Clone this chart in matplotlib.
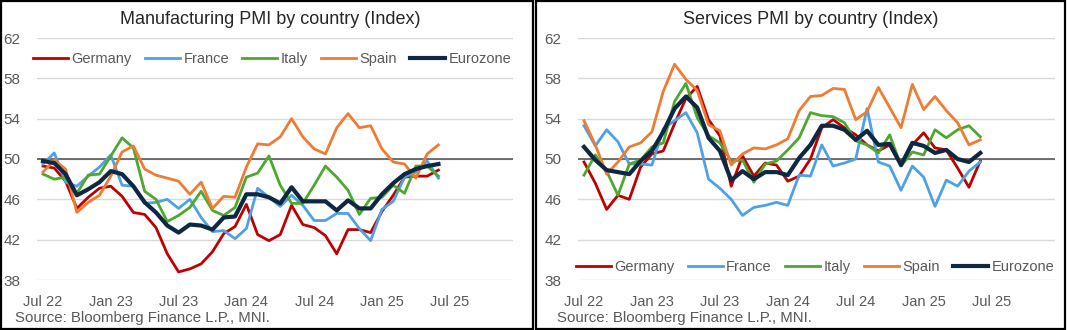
"""
Manufacturing and services PMI by country, two panels side by side.
"""

import matplotlib.pyplot as plt
from matplotlib.patches import Rectangle

plt.rcParams["font.family"] = ["Liberation Sans", "DejaVu Sans"]

# Monthly readings, Jul 2022 .. Jun 2025
months = list(range(36))
tick_pos = [0, 6, 12, 18, 24, 30, 36]
tick_labels = ["Jul 22", "Jan 23", "Jul 23", "Jan 24", "Jul 24", "Jan 25", "Jul 25"]
y_ticks = [38, 42, 46, 50, 54, 58, 62]

countries = ["Germany", "France", "Italy", "Spain", "Eurozone"]

mfg_germany = [49.3, 49.1, 47.8, 45.1, 46.2, 47.1, 47.3, 46.3, 44.7, 44.5, 43.2, 40.6,
               38.8, 39.1, 39.6, 40.8, 42.6, 43.3, 45.5, 42.5, 41.9, 42.5, 45.4, 43.5,
               43.2, 42.4, 40.6, 43.0, 43.0, 42.7, 44.8, 46.4, 48.2, 48.3, 48.3, 48.9]
mfg_france = [49.5, 50.6, 47.7, 47.3, 48.3, 49.2, 50.4, 47.4, 47.3, 45.6, 45.7, 46.0,
              45.1, 46.0, 44.2, 42.8, 42.9, 42.1, 43.1, 47.1, 46.2, 45.3, 46.4, 45.4,
              43.9, 43.9, 44.6, 44.6, 43.1, 41.9, 45.0, 45.8, 48.2, 48.7, 49.8, 48.1]
mfg_italy = [48.5, 48.0, 48.2, 46.6, 48.4, 48.5, 50.3, 52.1, 51.1, 46.8, 46.0, 43.8,
             44.4, 45.2, 46.8, 44.9, 44.4, 45.2, 48.2, 48.6, 50.3, 47.4, 45.6, 45.6,
             47.4, 49.3, 48.2, 46.9, 44.5, 46.1, 46.2, 47.4, 46.6, 49.3, 49.3, 48.3]
mfg_spain = [48.7, 49.9, 49.0, 44.7, 45.7, 46.4, 48.3, 50.7, 51.3, 49.0, 48.4, 48.1,
             47.8, 46.5, 47.7, 45.1, 46.3, 46.2, 49.2, 51.5, 51.4, 52.2, 54.0, 52.2,
             51.0, 50.5, 53.1, 54.5, 53.1, 53.3, 51.0, 49.7, 49.5, 48.1, 50.5, 51.4]
mfg_eurozone = [49.8, 49.6, 48.5, 46.4, 47.0, 47.7, 48.8, 48.5, 47.3, 45.7, 44.7, 43.4,
                42.7, 43.5, 43.4, 43.0, 44.2, 44.3, 46.5, 46.5, 46.2, 45.6, 47.2, 45.8,
                45.8, 45.8, 44.9, 45.9, 45.1, 45.1, 46.5, 47.6, 48.5, 49.0, 49.3, 49.5]

svc_germany = [49.7, 47.6, 45.0, 46.4, 46.0, 49.2, 50.5, 50.8, 53.5, 56.0, 57.2, 53.9,
               52.3, 47.3, 50.3, 48.3, 49.6, 49.4, 47.8, 48.3, 50.0, 53.1, 53.9, 53.1,
               52.4, 51.4, 50.8, 51.4, 49.4, 51.4, 52.6, 51.1, 50.9, 49.1, 47.2, 49.8]
svc_france = [53.3, 51.3, 52.9, 51.7, 49.5, 49.5, 49.4, 53.0, 53.8, 54.6, 52.6, 48.0,
              47.1, 46.0, 44.4, 45.2, 45.4, 45.7, 45.4, 48.4, 48.3, 51.4, 49.3, 49.6,
              50.0, 55.0, 49.7, 49.3, 46.9, 49.3, 48.2, 45.3, 47.9, 47.3, 48.8, 49.7]
svc_italy = [48.4, 50.4, 48.8, 46.4, 49.5, 49.9, 51.2, 51.6, 55.7, 57.5, 54.1, 52.3,
             51.6, 49.8, 49.9, 47.7, 49.5, 49.8, 50.9, 52.1, 54.6, 54.3, 54.2, 53.6,
             51.8, 51.4, 50.6, 52.4, 49.3, 50.7, 50.4, 52.9, 52.1, 52.9, 53.3, 52.2]
svc_spain = [53.8, 51.4, 48.5, 49.7, 51.2, 51.6, 52.7, 56.7, 59.4, 57.9, 56.8, 53.4,
             52.8, 49.4, 50.5, 51.1, 51.0, 51.4, 52.0, 54.8, 56.2, 56.3, 57.0, 56.9,
             53.9, 54.7, 57.1, 55.1, 53.1, 57.4, 54.9, 56.2, 54.8, 53.6, 51.4, 51.9]
svc_eurozone = [51.2, 49.9, 48.9, 48.7, 48.5, 49.8, 50.8, 52.7, 55.0, 56.2, 55.1, 52.1,
                50.8, 47.9, 48.8, 48.0, 48.7, 48.7, 48.4, 50.1, 51.4, 53.3, 53.3, 52.9,
                51.9, 52.8, 51.4, 51.5, 49.4, 51.6, 51.3, 50.6, 50.9, 50.0, 49.7, 50.6]

colors = ["#C00000", "#4EA1E4", "#4EA72E", "#F07B32", "#0E2841"]
widths = [2.0, 2.0, 2.0, 2.0, 3.0]

W, H = 1067, 330
fig = plt.figure(figsize=(W / 100, H / 100), dpi=100)

# panel frames
for x0, x1 in [(1, 533), (536, 1065)]:
    fig.patches.append(Rectangle((x0 / W, 1 / H), (x1 - x0) / W, (H - 2) / H,
                                 transform=fig.transFigure, fill=False,
                                 edgecolor="black", linewidth=1.6, zorder=10))


def draw_panel(ax, series, title, legend_anchor, title_x, src_x):
    for s, name, c, lw in zip(series, countries, colors, widths):
        ax.plot(months, s, color=c, linewidth=lw, label=name, zorder=3)
    ax.axhline(50, color="#595959", linewidth=1.2, zorder=2)
    ax.set_ylim(38, 62)
    ax.set_xlim(-0.53, 41.6)
    ax.set_yticks(y_ticks)
    ax.set_xticks(tick_pos)
    ax.set_xticklabels(tick_labels)
    ax.grid(axis="y", color="#D9D9D9", linewidth=1.0, zorder=0)
    ax.tick_params(length=0, labelcolor="#595959")
    ax.tick_params(axis="y", pad=12, labelsize=11)
    ax.tick_params(axis="x", pad=11, labelsize=10.5)
    for sp in ax.spines.values():
        sp.set_visible(False)
    ax.legend(loc="center", bbox_to_anchor=legend_anchor, ncol=5, frameon=False,
              fontsize=10.5, labelcolor="#595959", handlelength=2.4,
              handletextpad=0.25, columnspacing=0.9, borderaxespad=0)
    fig.text(title_x / W, 1 - 20 / H, title, ha="center", va="center",
             fontsize=13, color="#262626")
    fig.text(src_x / W, 1 - 318 / H, "Source: Bloomberg Finance L.P., MNI.",
             ha="left", va="center", fontsize=10.8, color="#595959")


ax1 = fig.add_axes([37 / W, 1 - 280 / H, 476 / W, 242 / H])
draw_panel(ax1, [mfg_germany, mfg_france, mfg_italy, mfg_spain, mfg_eurozone],
           "Manufacturing PMI by country (Index)", (0.494, 0.913), 270, 15)

ax2 = fig.add_axes([578 / W, 1 - 280 / H, 477 / W, 242 / H])
draw_panel(ax2, [svc_germany, svc_france, svc_italy, svc_spain, svc_eurozone],
           "Services PMI by country (Index)", (0.497, 0.054), 811, 557)

fig.savefig("out.png", dpi=100)
